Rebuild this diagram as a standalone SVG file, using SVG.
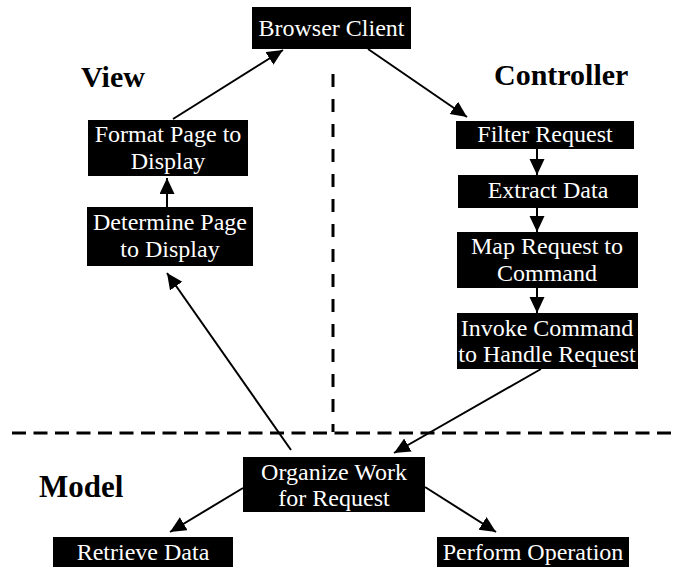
<svg xmlns="http://www.w3.org/2000/svg" width="674" height="567" viewBox="0 0 674 567">
<style>
.box{fill:#000}
.t{font-family:'Liberation Serif','DejaVu Serif',serif;font-size:24px;fill:#fff;text-anchor:middle}
.h{font-family:'Liberation Serif','DejaVu Serif',serif;font-size:30px;font-weight:bold;fill:#000}
.c{stroke:#000;stroke-width:2;fill:none;marker-end:url(#ah)}
.d{stroke:#000;stroke-width:3;fill:none}
</style>
<defs>
<marker id="ah" markerUnits="userSpaceOnUse" markerWidth="18" markerHeight="16" refX="16" refY="7.5" orient="auto">
<path d="M0,0 L16,7.5 L0,15 z" fill="#000"/>
</marker>
</defs>
<rect width="674" height="567" fill="#fff"/>
<g id="dividers">
<line class="d" x1="12" y1="433" x2="674" y2="433" stroke-dasharray="14 7.5"/>
<line class="d" x1="333" y1="74" x2="333" y2="432" stroke-dasharray="13 12"/>
</g>
<g id="labels">
<text class="h" x="81" y="87">View</text>
<text class="h" x="494" y="85">Controller</text>
<text class="h" x="39" y="497" style="font-size:31px">Model</text>
</g>
<g id="connectors">
<line class="c" x1="173" y1="119" x2="283" y2="50"/>
<line class="c" x1="368" y1="49" x2="467" y2="117"/>
<line class="c" x1="167" y1="207" x2="167" y2="178"/>
<line class="c" x1="537" y1="149" x2="537" y2="175"/>
<line class="c" x1="537" y1="208" x2="537" y2="232"/>
<line class="c" x1="537" y1="288" x2="537" y2="313"/>
<line class="c" x1="291" y1="450" x2="167" y2="273"/>
<line class="c" x1="541" y1="369" x2="394" y2="453"/>
<line class="c" x1="243" y1="488" x2="170" y2="532"/>
<line class="c" x1="425" y1="487" x2="496" y2="532"/>
</g>
<g id="browser-client">
<rect class="box" x="252" y="7" width="159" height="42"/>
<text class="t" x="331.5" y="36">Browser Client</text>
</g>
<g id="format-page">
<rect class="box" x="88" y="120" width="160" height="56"/>
<text class="t" x="168" y="142">Format Page to</text>
<text class="t" x="168" y="169">Display</text>
</g>
<g id="determine-page">
<rect class="box" x="87" y="207" width="166" height="59"/>
<text class="t" x="170" y="230">Determine Page</text>
<text class="t" x="170" y="257">to Display</text>
</g>
<g id="filter-request">
<rect class="box" x="456" y="121" width="178" height="28"/>
<text class="t" x="545" y="142">Filter Request</text>
</g>
<g id="extract-data">
<rect class="box" x="458" y="175" width="180" height="33"/>
<text class="t" x="548" y="198">Extract Data</text>
</g>
<g id="map-request">
<rect class="box" x="457" y="232" width="181" height="56"/>
<text class="t" x="547" y="254">Map Request to</text>
<text class="t" x="547" y="281">Command</text>
</g>
<g id="invoke-command">
<rect class="box" x="457" y="313" width="181" height="56"/>
<text class="t" x="547" y="336">Invoke Command</text>
<text class="t" x="547" y="362">to Handle Request</text>
</g>
<g id="organize-work">
<rect class="box" x="243" y="457" width="182" height="55"/>
<text class="t" x="334" y="480">Organize Work</text>
<text class="t" x="334" y="506">for Request</text>
</g>
<g id="retrieve-data">
<rect class="box" x="53" y="537" width="180" height="30"/>
<text class="t" x="143" y="560">Retrieve Data</text>
</g>
<g id="perform-operation">
<rect class="box" x="437" y="537" width="192" height="30"/>
<text class="t" x="533" y="560">Perform Operation</text>
</g>
</svg>
